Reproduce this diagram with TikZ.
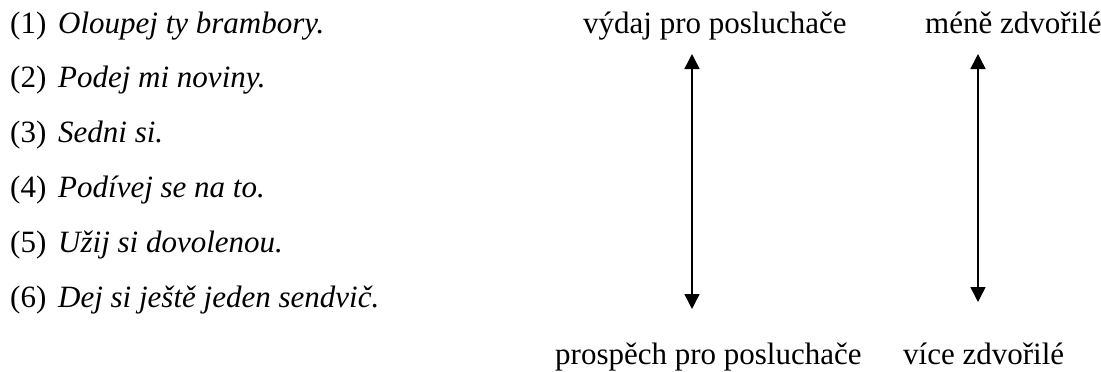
\documentclass[tikz,border=0pt]{standalone}
\usepackage{fontspec}
\setmainfont{Liberation Serif}
\usetikzlibrary{arrows.meta}
\begin{document}
\begin{tikzpicture}[x=1pt,y=-1pt,
  txt/.style={anchor=base west,inner sep=0pt,font=\fontsize{31}{37}\selectfont},
  conn/.style={line width=1.5pt,{Triangle[width=15pt,length=15pt]}-{Triangle[width=15pt,length=15pt]}}]
\path[use as bounding box,fill=white] (0,0) rectangle (1101,372);
\foreach \n/\t [count=\i from 0] in {1/Oloupej ty brambory.,2/Podej mi noviny.,3/Sedni si.,4/Podívej se na to.,5/Užij si dovolenou.,6/Dej si ještě jeden sendvič.}{
  \node[txt] (l\n) at (10,33+54.8*\i) {\makebox[48pt][l]{(\n)}\textit{\t}};
}
\node[txt] (vydaj) at (583,33) {výdaj pro posluchače};
\node[txt] (mene) at (925,33) {méně zdvořilé};
\node[txt] (prospech) at (555,364) {prospěch pro posluchače};
\node[txt] (vice) at (903,364) {více zdvořilé};
\coordinate (a1t) at (692,54);
\coordinate (a1b) at (692,309);
\coordinate (a2t) at (978,54);
\coordinate (a2b) at (978,302);
\draw[conn] (a1t) -- (a1b);
\draw[conn] (a2t) -- (a2b);
\end{tikzpicture}
\end{document}
